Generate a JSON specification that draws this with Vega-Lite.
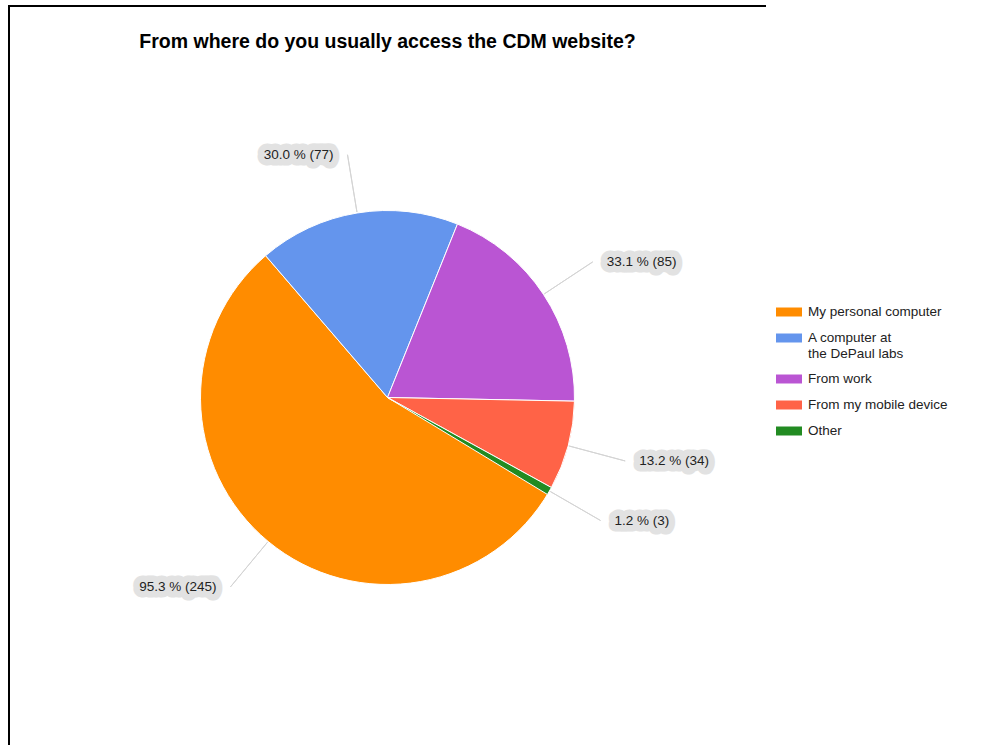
{
  "$schema": "https://vega.github.io/schema/vega-lite/v6.json",
  "width": 757,
  "height": 783,
  "autosize": {"type": "none"},
  "padding": {"left": 9, "top": 6, "right": 216, "bottom": -44},
  "background": "white",
  "view": {"stroke": "#000000", "strokeWidth": 2, "strokeDash": [757, 1540, 783]},
  "config": {
    "view": {"stroke": "#000000", "strokeWidth": 2, "strokeDash": [757, 1540, 783]},
    "font": "Liberation Sans"
  },
  "title": {
    "text": "From where do you usually access the CDM website?",
    "font": "Liberation Sans",
    "fontSize": 19.5,
    "fontWeight": "bold",
    "color": "#000000",
    "anchor": "middle",
    "offset": -46
  },
  "data": {
    "values": [
      {"category": "My personal computer", "value": 245, "label": "95.3 % (245)"},
      {"category": "A computer at the DePaul labs", "value": 77, "label": "30.0 % (77)"},
      {"category": "From work", "value": 85, "label": "33.1 % (85)"},
      {"category": "From my mobile device", "value": 34, "label": "13.2 % (34)"},
      {"category": "Other", "value": 3, "label": "1.2 % (3)"}
    ]
  },
  "transform": [
    {"stack": "value", "groupby": [], "as": ["v0", "v1"]}
  ],
  "layer": [
    {
      "mark": {"type": "arc", "radius": 187, "stroke": "#ffffff", "strokeWidth": 1},
      "encoding": {
        "theta": {
          "field": "v0",
          "type": "quantitative",
          "scale": {"range": [2.0944, 8.3776], "nice": false, "zero": true}
        },
        "theta2": {"field": "v1"},
        "color": {
          "field": "category",
          "type": "nominal",
          "scale": {
            "domain": ["My personal computer", "A computer at the DePaul labs", "From work", "From my mobile device", "Other"],
            "range": ["#ff8c00", "#6495ed", "#ba55d3", "#ff6347", "#228b22"]
          },
          "legend": {
            "orient": "none",
            "legendX": 767,
            "legendY": 293,
            "direction": "vertical",
            "title": null,
            "padding": 0,
            "labelFont": "Liberation Sans",
            "labelFontSize": 13.5,
            "labelColor": "#222222",
            "labelLimit": 300,
            "labelOffset": 6,
            "rowPadding": 6,
            "symbolType": "M-1,-0.346H1V0.346H-1Z",
            "symbolSize": 676,
            "symbolStrokeWidth": 0,
            "symbolOpacity": 1,
            "labelExpr": "datum.label == 'A computer at the DePaul labs' ? ['A computer at', 'the DePaul labs'] : datum.label"
          }
        }
      }
    },
    {
      "transform": [
        {"fold": ["v0", "v1"], "as": ["edge", "ang"]},
        {"aggregate": [{"op": "mean", "field": "ang", "as": "mid"}], "groupby": ["category", "label"]}
      ],
      "layer": [
        {
          "mark": {"type": "arc", "radius": 246, "radius2": 188, "filled": false, "stroke": "#d4d4d4", "strokeWidth": 1},
          "encoding": {
            "theta": {"field": "mid", "type": "quantitative"},
            "theta2": {"field": "mid"}
          }
        },
        {
          "mark": {
            "type": "text",
            "radius": 246,
            "align": {"expr": "indexof(['My personal computer', 'A computer at the DePaul labs'], datum.category) >= 0 ? 'right' : 'left'"},
            "dx": {"expr": "indexof(['My personal computer', 'A computer at the DePaul labs'], datum.category) >= 0 ? -14 : 14"},
            "baseline": "middle",
            "font": "Liberation Sans",
            "fontSize": 13.5,
            "fontWeight": "bold",
            "fill": "#e2e2e2",
            "stroke": "#e2e2e2",
            "strokeWidth": 13,
            "strokeJoin": "round"
          },
          "encoding": {
            "theta": {"field": "mid", "type": "quantitative"},
            "text": {"field": "label"}
          }
        },
        {
          "mark": {
            "type": "text",
            "radius": 246,
            "align": {"expr": "indexof(['My personal computer', 'A computer at the DePaul labs'], datum.category) >= 0 ? 'right' : 'left'"},
            "dx": {"expr": "indexof(['My personal computer', 'A computer at the DePaul labs'], datum.category) >= 0 ? -14 : 14"},
            "baseline": "middle",
            "font": "Liberation Sans",
            "fontSize": 13.5,
            "fill": "#222222"
          },
          "encoding": {
            "theta": {"field": "mid", "type": "quantitative"},
            "text": {"field": "label"}
          }
        }
      ]
    }
  ]
}
